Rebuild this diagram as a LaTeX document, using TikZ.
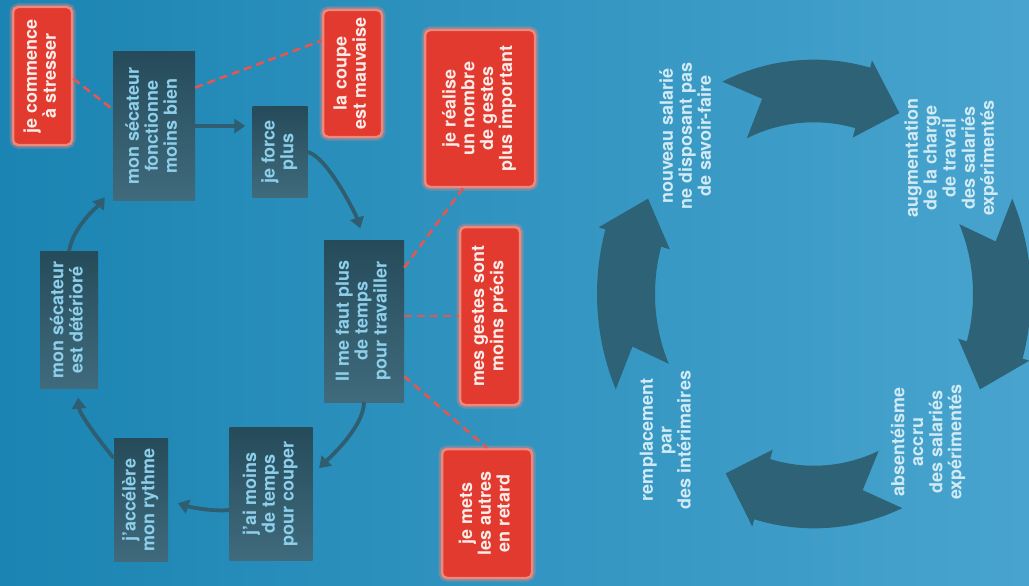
\documentclass[tikz,border=0pt]{standalone}
\usepackage{fontspec}
\setmainfont{TeX Gyre Heros}
\usepackage{graphicx}
\usetikzlibrary{arrows.meta}
\definecolor{bgleft}{HTML}{1B84B2}
\definecolor{bgright}{HTML}{48A4CE}
\definecolor{slate}{HTML}{2F5E71}
\definecolor{slatetext}{HTML}{8ED0EC}
\definecolor{alert}{HTML}{E23A2E}
\definecolor{alertglow}{HTML}{F0877C}
\definecolor{alerttext}{HTML}{FCEDEA}
\definecolor{alertline}{HTML}{E4574F}
\definecolor{ring}{HTML}{2E6377}
\definecolor{ringtext}{HTML}{D2EAF4}

\newcommand{\vlines}[1]{\rotatebox{90}{\begin{tabular}{@{}c@{}}#1\end{tabular}}}

\tikzset{
  boxtext/.style={font=\fontsize{18}{18.7}\selectfont\bfseries, inner sep=0pt},
  slatebox/.style={boxtext, text=slatetext, top color=slate!80!black, bottom color=slate!92!white},
  alertbox/.style={boxtext, text=alerttext, fill=alert, draw=alertglow, line width=2.5pt,
    rounded corners=5pt, preaction={draw=alertglow, line width=7pt, draw opacity=0.35}},
  ringlabel/.style={boxtext, text=ringtext},
  flow/.style={draw=slate, line width=3.8pt, -{Triangle[width=14pt,length=11pt]}},
  link/.style={draw=alertline, line width=2.6pt, dash pattern=on 8pt off 5pt},
}

\begin{document}
\begin{tikzpicture}[x=1pt,y=-1pt]
  \useasboundingbox (0,0) rectangle (1029,586);
  \shade[left color=bgleft, right color=bgright] (0,0) rectangle (1029,586);

  % cycle on the right
  \begin{scope}[shift={(814,294)}, yscale=1.08]
    \foreach \a in {-115,-24,66,156} {
      \fill[ring] plot[domain=0:40, samples=25] ({\a+\x}:217) -- (\a+40:224) -- (\a+52:188)
        -- (\a+40:150) -- plot[domain=0:40, samples=25] ({\a+40-\x}:159) -- (\a+9:188) -- cycle;
    }
  \end{scope}
  \node[ringlabel] (nouveau) at (688,136) {\vlines{nouveau salarié\\ne disposant pas\\de savoir-faire}};
  \node[ringlabel] (charge) at (952,158) {\vlines{augmentation\\de la charge\\de travail\\des salariés\\expérimentés}};
  \node[ringlabel] (absence) at (929,442) {\vlines{absentéisme\\accru\\des salariés\\expérimentés}};
  \node[ringlabel] (interim) at (668,440) {\vlines{remplacement\\par\\des intérimaires}};

  % cycle on the left
  \node[slatebox, minimum width=82pt, minimum height=149pt] (fonct) at (154,126) {\vlines{mon sécateur\\fonctionne\\moins bien}};
  \node[slatebox, minimum width=55pt, minimum height=90pt] (force) at (280,152) {\vlines{je force\\plus}};
  \node[slatebox, minimum width=80pt, minimum height=162pt] (temps) at (364,321) {\vlines{Il me faut plus\\de temps\\pour travailler}};
  \node[slatebox, minimum width=83pt, minimum height=133pt] (couper) at (271,494) {\vlines{j'ai moins\\de temps\\pour couper}};
  \node[slatebox, minimum width=54pt, minimum height=123pt] (accel) at (141,500) {\vlines{j'accélère\\mon rythme}};
  \node[slatebox, minimum width=58pt, minimum height=137pt] (deter) at (69,320) {\vlines{mon sécateur\\est détérioré}};

  \node[alertbox, minimum width=59pt, minimum height=138pt] (stresser) at (42.5,76) {\vlines{je commence\\à stresser}};
  \node[alertbox, minimum width=59pt, minimum height=127pt] (coupe) at (352.5,73.5) {\vlines{la coupe\\est mauvaise}};
  \node[alertbox, minimum width=110pt, minimum height=157pt] (realise) at (480,108.5) {\vlines{je réalise\\un nombre\\de gestes\\plus important}};
  \node[alertbox, minimum width=60pt, minimum height=178pt] (precis) at (490,316) {\vlines{mes gestes sont\\moins précis}};
  \node[alertbox, minimum width=90pt, minimum height=129pt] (retard) at (487,513.5) {\vlines{je mets\\les autres\\en retard}};

  \draw[flow, shorten >=7pt] (fonct.east) -- (fonct.east -| force.west);
  \draw[flow, shorten >=12pt] (force.east) .. controls +(20,5) and +(-8,-25) .. (temps.north);
  \draw[flow, shorten >=9pt] (temps.south) .. controls +(0,25) and +(15,-15) .. (couper.25);
  \draw[flow, shorten >=10pt] (couper.201) .. controls +(-18,2) and +(18,6) .. (accel.east);
  \draw[flow, shorten >=9pt] (accel.123) .. controls +(-15,-18) and +(2,25) .. (deter.-83);
  \draw[flow, shorten >=13pt] (deter.north) .. controls +(4,-25) and +(-14,18) .. (fonct.-124);

  \draw[link] (stresser.-5) -- (fonct.158);
  \draw[link] (fonct.43) -- (coupe.133);
  \draw[link] (temps.53) -- (realise.-102);
  \draw[link] (precis.west -| temps.east) -- (precis.west);
  \draw[link] (temps.-54) -- (retard.north);
\end{tikzpicture}
\end{document}
